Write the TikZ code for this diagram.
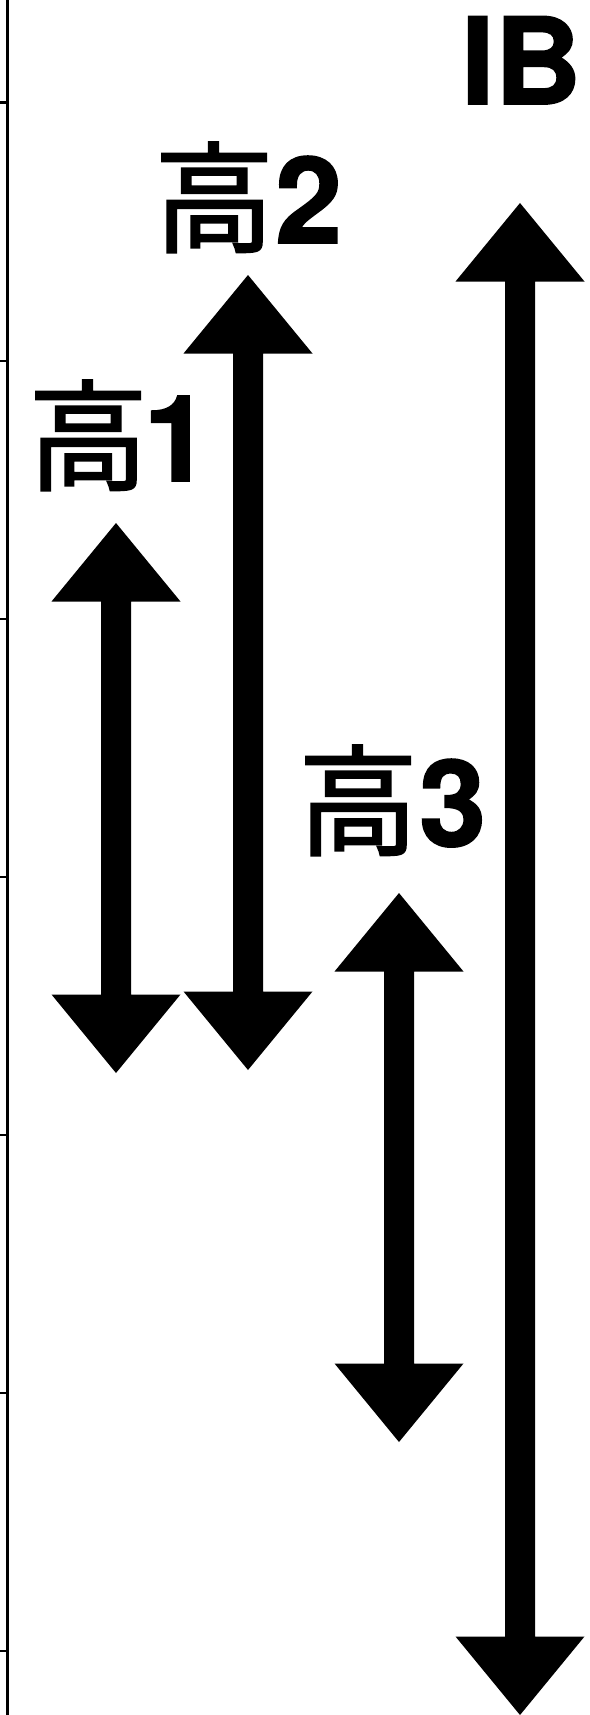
\documentclass[tikz,border=0pt]{standalone}
\usepackage{fontspec}
\setmainfont{TeX Gyre Heros}[BoldFeatures={FakeBold=1.5}]
\newfontfamily\cjk[FakeBold=1.6]{Noto Sans CJK JP}
\tikzset{
  lbl/.style={inner sep=0pt, anchor=base west, font=\fontsize{120}{120}\selectfont\bfseries},
  axisline/.style={line width=2.4pt},
  tickline/.style={line width=2.4pt},
  arrowbody/.style={fill=black, draw=none}
}
\newcommand\dblarrow[4]{% name, x, top, bottom
  \coordinate (#1-top) at (#2,#3);
  \coordinate (#1-bot) at (#2,#4);
  \fill[arrowbody] (#1-top)
    -- ++(64.5,78.5) -- ++(-49.5,0) |- ([shift={(15,-78.5)}]#1-bot)
    -- ++(49.5,0) -- (#1-bot) -- ++(-64.5,-78.5) -- ++(49.5,0)
    |- ([shift={(-15,78.5)}]#1-top) -- ++(-49.5,0) -- cycle;
}
\begin{document}
\begin{tikzpicture}[x=1pt,y=-1pt]
\useasboundingbox (0,0) rectangle (589,1715);
% axis
\coordinate (axtop) at (7.3,0);
\coordinate (axbot) at (7.3,1715);
\draw[axisline] (axtop) -- (axbot);
\foreach \i in {0,...,6}{
  \coordinate (tk\i) at (0,102.7+258*\i);
  \draw[tickline] (tk\i) -- (tk\i -| axtop);
}
% arrows
\dblarrow{a1}{116}{523}{1073}
\dblarrow{a2}{248}{275}{1070}
\dblarrow{a3}{399}{893}{1442}
\dblarrow{aib}{520}{203}{1715}
% labels
\node[lbl] (l1) at (28,481) {{\cjk\mdseries 高}\kern-4.5pt 1};
\node[lbl] (l2) at (154,243) {{\cjk\mdseries 高}\kern1pt 2};
\node[lbl] (l3) at (298,846) {{\cjk\mdseries 高}\kern1pt 3};
\node[lbl] (lib) at (461,104) {IB};
\end{tikzpicture}
\end{document}
